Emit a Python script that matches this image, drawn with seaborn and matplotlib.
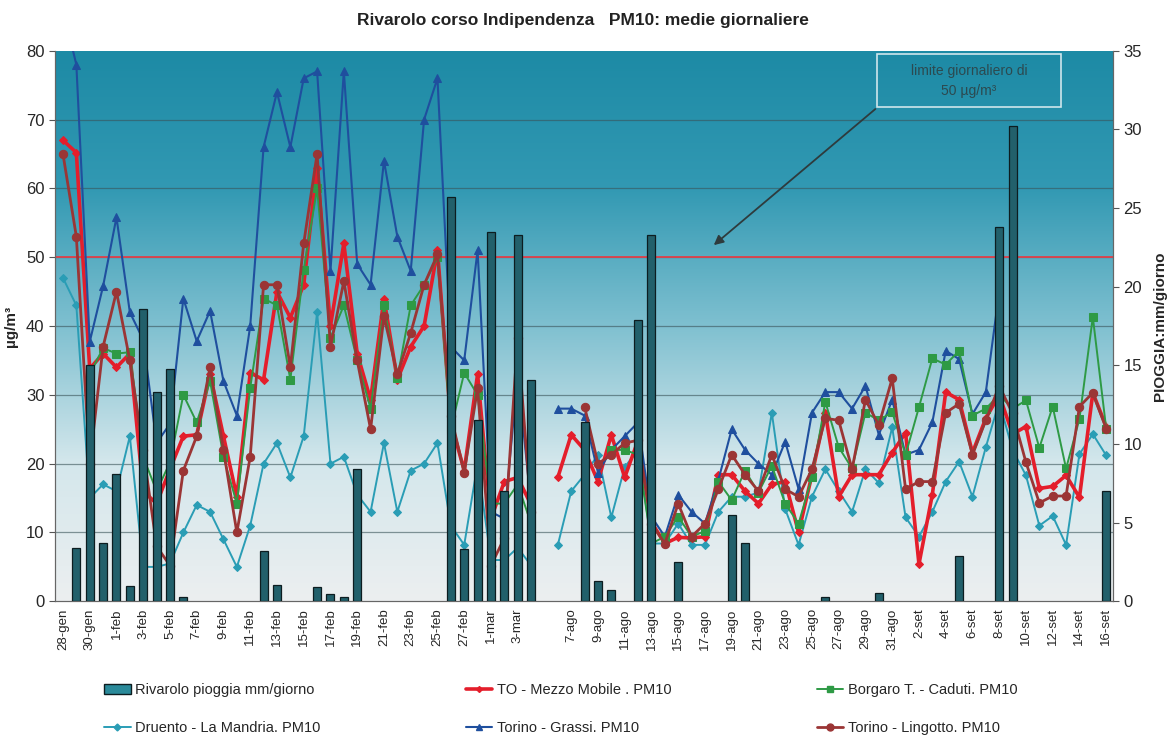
import numpy as np
import pandas as pd
import matplotlib
matplotlib.use("Agg")
import matplotlib.pyplot as plt
import seaborn as sns
from matplotlib.colors import LinearSegmentedColormap
from matplotlib.lines import Line2D
from matplotlib.patches import Patch, Rectangle

# categorie: 28-gen .. 4-mar, una colonna vuota, 6-ago .. 16-set
days = ([f"{d}-gen" for d in range(28, 32)] + [f"{d}-feb" for d in range(1, 29)]
        + [f"{d}-mar" for d in range(1, 5)] + [""]
        + [f"{d}-ago" for d in range(6, 32)] + [f"{d}-set" for d in range(1, 17)])

N = None
grassi = [86, 78, 37.7, 45.8, 55.8, 42, 38, 23, 25.8, 44, 37.8, 42.2, 32, 27, 40, 66, 74, 66,
          76, 77, 48, 77, 49, 46, 64, 53, 48, 70, 76, 37, 35, 51, 13, 12, 33, 14,
          N,
          28, 28, 27, 18.7, 22, 24, 26, 12.3, 9.4, 15.5, 13, 11.3, 17.6, 25, 22, 20, 18.4, 23.2, 16.3,
          27.4, 30.4, 30.4, 28, 31.3, 24.2, 29.3, 21.3, 22, 26, 36.4, 35.2, 27.2, 30.4, 45,
          N, N, N, N, N, N, N, N]
mezzo = [67, 65.2, 33.8, 36, 34, 36, 16, 14.2, 19.2, 24, 24.2, 33, 24, 15.2, 33.2, 32.2, 45, 41.2,
         46, 63, 40, 52, 36, 29.3, 44, 32.2, 37, 40, 51, 26, 19, 33, 12, 17.4, 18, 14,
         N,
         18, 24.2, 22, 17.4, 24.2, 18, 23.4, 11.5, 8.4, 9.3, 9.2, 9.4, 18.4, 18.4, 16, 14.2, 17, 17.4, 10,
         18.4, 27.4, 15.2, 18.4, 18.4, 18.4, 21.6, 24.5, 5.4, 15.5, 30.4, 29.3, 21.6, 26.6, 30,
         24.3, 25.4, 16.4, 16.7, 18.3, 15.1, 30.3, 25.4]
lingotto = [65, 53, 20, 37, 45, 35, 22, 8, 5.2, 19, 24, 34, 22, 10, 21, 46, 46, 34,
            52, 65, 37, 46.5, 35, 25, 41.4, 33, 39, 46, 50.4, 27, 18.7, 31, 5.2, 9.2, 38.3, 13,
            N,
            N, N, 28.3, 20, 21.3, 23, 23.4, 11.3, 8.4, 14.2, 9.4, 11.3, 16.3, 21.3, 18.4, 16, 21.3, 16.3, 15.2,
            19.2, 26.6, 26.3, 19.2, 29.3, 25.6, 32.4, 16.3, 17.4, 17.4, 27.4, 28.7, 21.3, 26.3, 31.3,
            27.3, 20.2, 14.3, 15.3, 15.3, 28.3, 30.3, 25.1]
borgaro = [N, N, 33, 36.8, 36, 36.2, 21, 16, 20.2, 30, 26, 32, 21, 14.2, 31, 44, 43, 32.2,
           48.2, 60, 38.3, 43, 35, 28, 43, 32.4, 43, 46, 50, 25, 33.2, 30, 14.2, 14.2, 17, 11.3,
           N,
           N, N, N, N, 22, 22, 21.3, 8.4, 9.4, 12.3, 9.4, 10.2, 17.4, 14.7, 19, 15.8, 19.7, 14.2, 11.3,
           18, 29, 22.4, 19.3, 27.4, 26.3, 27.5, 21.3, 28.2, 35.3, 34.4, 36.4, 27, 28, 30,
           28, 29.2, 22.3, 28.3, 19.3, 26.5, 41.3, 25.1]
druento = [47, 43, 15, 17, 16, 24, 5, 5, 5.5, 10, 14, 13, 9, 5, 11, 20, 23, 18,
           24, 42, 20, 21, 15.5, 13, 23, 13, 19, 20, 23, 11, 8.2, 20, 6, 6, 7.8, 5.2,
           N,
           8.2, 16, 18.4, 21.3, 12.2, 19.5, 22, 8.4, 8.4, 11.3, 8.2, 8.2, 13, 15.2, 15.2, 15.8, 27.4, 13.4, 8.2,
           15.2, 19.2, 16, 13, 19.2, 17.2, 25.3, 12.2, 9.4, 13, 17.4, 20.3, 15.2, 22.4, 29,
           22, 18.3, 11, 12.4, 8.2, 21.4, 24.3, 21.2]

# pioggia mm/giorno (asse destro), giorno -> mm
rain_idx = [1, 2, 3, 4, 5, 6, 7, 8, 9, 15, 16, 19, 20, 21, 22, 29, 30, 31, 32, 33, 34, 35,
            39, 40, 41, 43, 44, 46, 50, 51, 57, 61, 67, 70, 71, 78]
rain_mm = [3.4, 15, 3.7, 8.1, 1.0, 18.6, 13.3, 14.8, 0.25, 3.2, 1.06, 0.9, 0.46, 0.3, 8.4,
           25.7, 3.3, 11.5, 23.5, 7, 23.3, 14.1,
           11.4, 1.27, 0.7, 17.9, 23.3, 2.5, 5.5, 3.7, 0.3, 0.5, 2.9, 23.8, 30.2, 7.0]

series = [
    ("Druento - La Mandria. PM10", druento, "#2a9db5", "D", 4.5, 1.4),
    ("TO - Mezzo Mobile . PM10", mezzo, "#e41e2b", "D", 4, 2.6),
    ("Torino - Grassi. PM10", grassi, "#1f4f9e", "^", 6, 1.5),
    ("Borgaro T. - Caduti. PM10", borgaro, "#2e9a45", "s", 5.5, 1.4),
    ("Torino - Lingotto. PM10", lingotto, "#9b3535", "o", 6, 2.0),
]

sns.set_style("white")
plt.rcParams["font.family"] = ["Liberation Sans", "DejaVu Sans"]

fig = plt.figure(figsize=(11.69, 7.36), dpi=100)
ax = fig.add_axes([0.047, 0.183, 0.905, 0.748])

# sfondo sfumato
cmap = LinearSegmentedColormap.from_list("bg", ["#eceff0", "#d4e7ec", "#7fc0d0", "#3299b3", "#1d8aa5"])
grad = np.linspace(0, 1, 256).reshape(-1, 1)
ax.imshow(grad, cmap=cmap, extent=(-0.6, 78.5, 0, 80), origin="lower", aspect="auto", zorder=0)

for y in range(10, 80, 10):
    ax.axhline(y, color="#3a5358", lw=0.9, alpha=0.6, zorder=1)
ax.axhline(50, color="#e0404a", lw=1.3, zorder=1)

x_all = np.arange(len(days))
for name, vals, col, mk, ms, lw in series:
    v = pd.Series(vals, dtype=float)
    ok = v.notna().values
    start = None
    for i in range(len(v) + 1):
        if i < len(v) and ok[i]:
            if start is None:
                start = i
        elif start is not None:
            sns.lineplot(x=x_all[start:i], y=v.values[start:i], ax=ax, color=col, marker=mk,
                         markersize=ms, linewidth=lw, markeredgecolor=col, legend=False,
                         errorbar=None, sort=False, zorder=3)
            start = None

ax.set_xlim(-0.6, 78.5)
ax.set_ylim(0, 80)
ax.set_yticks(range(0, 81, 10))
ax.set_xticks(x_all)
ax.set_xticklabels([d if i % 2 == 0 else "" for i, d in enumerate(days)], rotation=90, fontsize=9.5)
ax.tick_params(axis="x", length=4, direction="inout", color="#555", pad=3)
ax.tick_params(axis="y", labelsize=12, length=4, color="#555")
ax.set_xlabel("")
ax.set_ylabel("µg/m³", fontsize=11, fontweight="bold", labelpad=6)

# annotazione limite
ax.add_patch(Rectangle((60.9, 71.8), 13.7, 7.7, fill=False, edgecolor="#cfe6ec", lw=1.2, zorder=4))
ax.text(67.75, 75.6, "limite giornaliero di\n50 µg/m³", ha="center", va="center",
        fontsize=10, color="#2c4a50", linespacing=1.6, zorder=4)
ax.annotate("", xy=(48.5, 51.5), xytext=(60.9, 71.8),
            arrowprops=dict(arrowstyle="-|>", color="#2e3b3d", lw=1.3, mutation_scale=14), zorder=4)

# pioggia sull'asse destro
ax2 = ax.twinx()
rain_df = pd.DataFrame({"giorno": rain_idx, "mm": rain_mm})
sns.barplot(data=rain_df, x="giorno", y="mm", native_scale=True, width=0.6, color="#22606b",
            saturation=1, edgecolor="#0d1d20", linewidth=0.9, errorbar=None, ax=ax2, zorder=5)
ax2.set_ylim(0, 35)
ax2.set_yticks(range(0, 36, 5))
ax2.tick_params(axis="y", labelsize=12, length=4, color="#555")
ax2.set_ylabel("PIOGGIA:mm/giorno", fontsize=11, fontweight="bold", labelpad=8)
ax2.set_xlabel("")
ax2.set_xlim(-0.6, 78.5)
ax.set_xticks(x_all)

for a in (ax, ax2):
    a.spines["top"].set_visible(False)
    for s in ("left", "right", "bottom"):
        a.spines[s].set_color("#666")
        a.spines[s].set_linewidth(0.8)

fig.text(0.499, 0.972, "Rivarolo corso Indipendenza   PM10: medie giornaliere",
         ha="center", va="center", fontsize=12.5, fontweight="bold", color="#222")

handles = [Patch(facecolor="#2a8a9a", edgecolor="#0d1d20", label="Rivarolo pioggia mm/giorno")]
by_name = {}
for name, vals, col, mk, ms, lw in series:
    by_name[name] = Line2D([], [], color=col, marker=mk, markersize=ms - 1, lw=lw, label=name)
order = ["Druento - La Mandria. PM10", "TO - Mezzo Mobile . PM10", "Torino - Grassi. PM10",
         "Borgaro T. - Caduti. PM10", "Torino - Lingotto. PM10"]
handles += [by_name[n] for n in order]
fig.legend(handles=handles, loc="lower left", bbox_to_anchor=(0.078, -0.016), ncol=3,
           frameon=False, fontsize=10.5, columnspacing=10, handlelength=1.8,
           handletextpad=0.3, labelspacing=1.6)

fig.savefig("out.png", dpi=100)
